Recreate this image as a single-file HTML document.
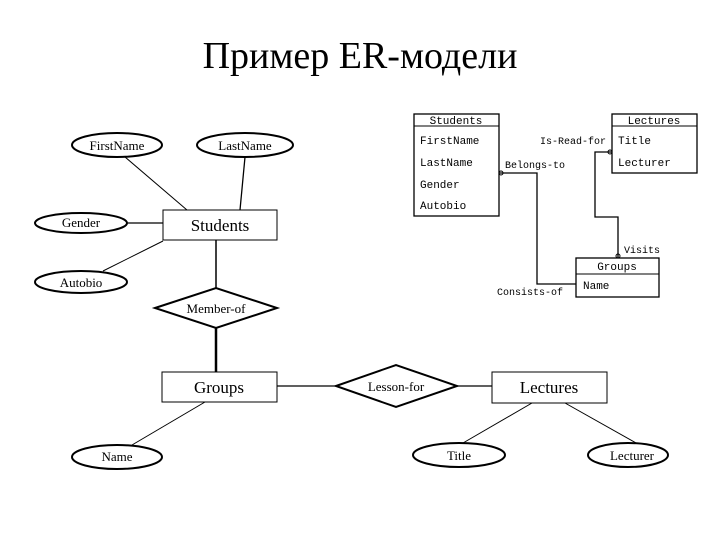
<!DOCTYPE html>
<html><head><style>
body{margin:0;background:#fff;}
svg{display:block}
.s{font-family:"Liberation Serif",serif;fill:#000}
.m{font-family:"Liberation Mono",monospace;font-size:11px;fill:#000}
</style></head><body>
<svg width="720" height="540" viewBox="0 0 720 540">
<text x="360" y="68" text-anchor="middle" class="s" font-size="38">Пример ER-модели</text>
<g stroke="#000" fill="none">
<!-- left ER -->
<ellipse cx="117" cy="145" rx="45" ry="12" stroke-width="2"/>
<ellipse cx="245" cy="145" rx="48" ry="12" stroke-width="2"/>
<ellipse cx="81" cy="223" rx="46" ry="10" stroke-width="2"/>
<ellipse cx="81" cy="282" rx="46" ry="11" stroke-width="2"/>
<rect x="163" y="210" width="114" height="30" stroke-width="1"/>
<line x1="125" y1="157" x2="187" y2="210"/>
<line x1="245" y1="157" x2="240" y2="210" stroke-width="1.3"/>
<line x1="127" y1="223" x2="163" y2="223" stroke-width="1.3"/>
<line x1="103" y1="271" x2="163" y2="241"/>
<line x1="216" y1="240" x2="216" y2="288" stroke-width="1.5"/>
<polygon points="155,308 216,288 277,308 216,328" stroke-width="2"/>
<line x1="216" y1="328" x2="216" y2="372" stroke-width="2.5"/>
<rect x="162" y="372" width="115" height="30"/>
<line x1="277" y1="386" x2="336" y2="386" stroke-width="1.3"/>
<polygon points="336,386 396,365 457,386 396,407" stroke-width="2"/>
<line x1="457" y1="386" x2="492" y2="386" stroke-width="1.3"/>
<rect x="492" y="372" width="115" height="31"/>
<ellipse cx="117" cy="457" rx="45" ry="12" stroke-width="2"/>
<line x1="132" y1="445" x2="205" y2="402"/>
<ellipse cx="459" cy="455" rx="46" ry="12" stroke-width="2"/>
<ellipse cx="628" cy="455" rx="40" ry="12" stroke-width="2"/>
<line x1="463" y1="443" x2="532" y2="403"/>
<line x1="636" y1="443" x2="565" y2="403"/>
<!-- right relational -->
<rect x="414" y="114" width="85" height="102" stroke-width="1.3"/>
<line x1="414" y1="126" x2="499" y2="126"/>
<rect x="612" y="114" width="85" height="59" stroke-width="1.3"/>
<line x1="612" y1="126" x2="697" y2="126"/>
<rect x="576" y="258" width="83" height="39" stroke-width="1.3"/>
<line x1="576" y1="274" x2="659" y2="274"/>
<polyline points="499,173 537,173 537,284 576,284" stroke-width="1.3"/>
<polyline points="612,152 595,152 595,217 618,217 618,258" stroke-width="1.3"/>
<circle cx="501" cy="173" r="2"/>
<circle cx="610" cy="152" r="2"/>
<circle cx="618" cy="256" r="2"/>
</g>
<g class="s" text-anchor="middle">
<text x="117" y="150" font-size="13">FirstName</text>
<text x="245" y="150" font-size="13">LastName</text>
<text x="81" y="227" font-size="13">Gender</text>
<text x="81" y="287" font-size="13">Autobio</text>
<text x="220" y="231" font-size="17">Students</text>
<text x="216" y="313" font-size="13">Member-of</text>
<text x="219" y="393" font-size="17">Groups</text>
<text x="396" y="391" font-size="13">Lesson-for</text>
<text x="549" y="393" font-size="17">Lectures</text>
<text x="117" y="461" font-size="13">Name</text>
<text x="459" y="460" font-size="13">Title</text>
<text x="632" y="460" font-size="13">Lecturer</text>
</g>
<g class="m">
<text x="456" y="124" text-anchor="middle">Students</text>
<text x="420" y="144">FirstName</text>
<text x="420" y="166">LastName</text>
<text x="420" y="188">Gender</text>
<text x="420" y="209">Autobio</text>
<text x="654" y="124" text-anchor="middle">Lectures</text>
<text x="618" y="144">Title</text>
<text x="618" y="166">Lecturer</text>
<text x="617" y="270" text-anchor="middle">Groups</text>
<text x="583" y="289">Name</text>
<text x="540" y="144" font-size="10">Is-Read-for</text>
<text x="505" y="168" font-size="10">Belongs-to</text>
<text x="624" y="253" font-size="10">Visits</text>
<text x="497" y="295" font-size="10">Consists-of</text>
</g>
</svg>
</body></html>
